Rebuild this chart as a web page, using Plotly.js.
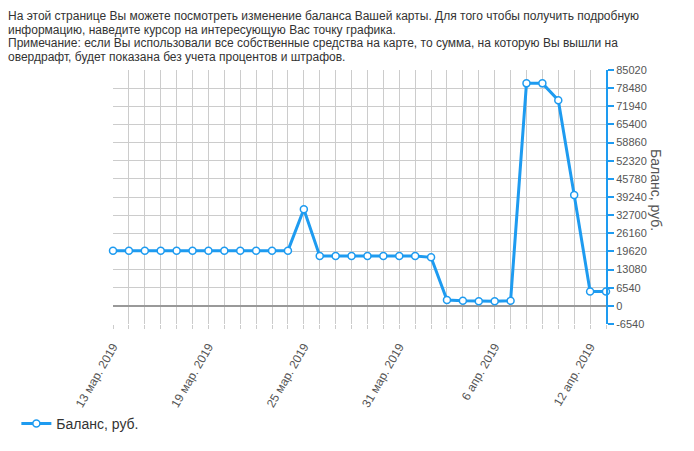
<!DOCTYPE html>
<html>
<head>
<meta charset="utf-8">
<script src="https://cdn.plot.ly/plotly-3.0.1.min.js"></script>
<style>html,body{margin:0;padding:0;background:#fff;}#chart{width:694px;height:451px;}</style>
</head>
<body>
<div id="chart"></div>
<script>
const dates = ["2019-03-13","2019-03-14","2019-03-15","2019-03-16","2019-03-17","2019-03-18","2019-03-19","2019-03-20","2019-03-21","2019-03-22","2019-03-23","2019-03-24","2019-03-25","2019-03-26","2019-03-27","2019-03-28","2019-03-29","2019-03-30","2019-03-31","2019-04-01","2019-04-02","2019-04-03","2019-04-04","2019-04-05","2019-04-06","2019-04-07","2019-04-08","2019-04-09","2019-04-10","2019-04-11","2019-04-12","2019-04-13"];
const balance = [19900,19900,19900,19900,19900,19900,19900,19900,19900,19900,19900,19900,34800,18000,18000,18000,18000,18000,18000,18000,17500,2100,1800,1700,1700,1800,80200,80200,74100,40000,5200,5200];
const tickDates = ["2019-03-13","2019-03-19","2019-03-25","2019-03-31","2019-04-06","2019-04-12"];
const tickLabels = ["13 мар. 2019","19 мар. 2019","25 мар. 2019","31 мар. 2019","6 апр. 2019","12 апр. 2019"];
const yTicks = [-6540,0,6540,13080,19620,26160,32700,39240,45780,52320,58860,65400,71940,78480,85020];
const yTickLabels = ["-6540","0","6540","13080","19620","26160","32700","39240","45780","52320","58860","65400","71940","78480","85020"];
const seriesName = "Баланс, руб.";
const introLines = [
 "На этой странице Вы можете посмотреть изменение баланса Вашей карты. Для того чтобы получить подробную",
 "информацию, наведите курсор на интересующую Вас точку графика.",
 "Примечание: если Вы использовали все собственные средства на карте, то сумма, на которую Вы вышли на",
 "овердрафт, будет показана без учета процентов и штрафов."
];

const blue = "#1e9bf0";
const trace = {
  x: dates, y: balance, type: "scatter", mode: "lines+markers", name: seriesName,
  line: {color: blue, width: 3},
  marker: {symbol: "circle", size: 7, color: "#ffffff", line: {color: blue, width: 1.5}},
  cliponaxis: false
};

const W = 694, H = 451, mL = 113, mR = 88, mT = 70, mB = 127;
const plotH = H - mT - mB, plotW = W - mL - mR;
const lineY = [16.5, 30, 43.5, 57];
const annotations = introLines.map((t, i) => ({
  text: t, xref: "paper", yref: "paper",
  x: (7 - mL) / plotW, y: (H - mB - lineY[i]) / plotH,
  xanchor: "left", yanchor: "middle", showarrow: false, align: "left", borderpad: 0,
  font: {family: "Liberation Sans, Arial, sans-serif", size: 12, color: "#333"}
}));
annotations.push({
  text: seriesName, xref: "paper", yref: "paper",
  x: (656 - mL) / plotW, y: (H - mB - 190) / plotH,
  xanchor: "center", yanchor: "middle", showarrow: false, textangle: 90,
  font: {family: "Liberation Sans, Arial, sans-serif", size: 14, color: "#555"}
});

const layout = {
  width: W, height: H,
  margin: {l: mL, r: mR, t: mT, b: mB, pad: 0, autoexpand: false},
  paper_bgcolor: "#fff", plot_bgcolor: "#fff",
  font: {family: "Liberation Sans, Arial, sans-serif", size: 12, color: "#555"},
  showlegend: true,
  legend: {orientation: "h", x: -0.196, y: -0.33, xanchor: "left", yanchor: "top",
    font: {size: 14, color: "#333"}, bgcolor: "rgba(0,0,0,0)"},
  xaxis: {
    type: "date", range: ["2019-03-13", "2019-04-13"], automargin: false,
    tickmode: "array", tickvals: tickDates, ticktext: tickLabels, tickangle: -60,
    showgrid: true, gridcolor: "#cccccc", gridwidth: 1,
    ticks: "outside", ticklen: 4, tickcolor: "#cccccc", ticklabelstandoff: 6,
    minor: {tickmode: "linear", tick0: "2019-03-13", dtick: 86400000, showgrid: true, gridcolor: "#cccccc", gridwidth: 1, ticks: "outside", ticklen: 4, tickcolor: "#cccccc"},
    showline: false, zeroline: false,
    tickfont: {size: 12, color: "#555"}
  },
  yaxis: {
    side: "right", range: [-6540, 85020], automargin: false,
    tickmode: "array", tickvals: yTicks, ticktext: yTickLabels,
    showgrid: true, gridcolor: "#cccccc", gridwidth: 1,
    zeroline: true, zerolinecolor: "#999999", zerolinewidth: 2,
    showline: true, linecolor: blue, linewidth: 2,
    ticks: "outside", ticklen: 6, tickwidth: 2, tickcolor: blue,
    tickfont: {size: 11, color: "#555"}
  },
  annotations: annotations
};

Plotly.newPlot("chart", [trace], layout, {displayModeBar: false, staticPlot: true});
</script>
</body>
</html>
